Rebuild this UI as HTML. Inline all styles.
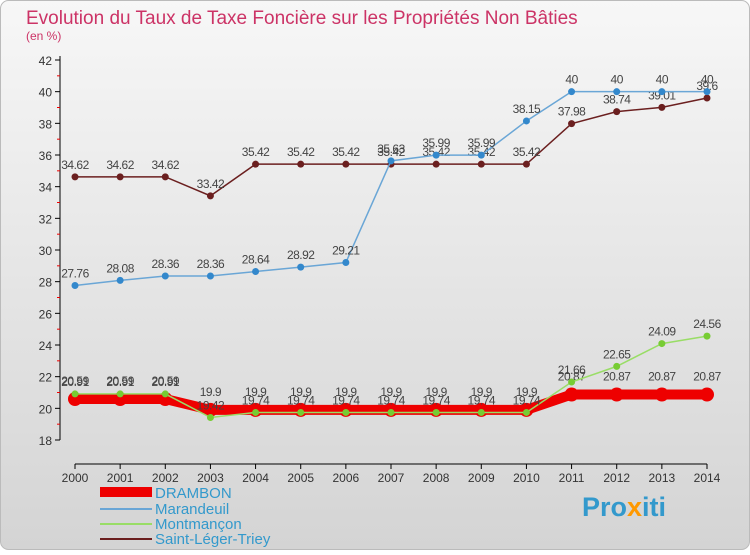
<!DOCTYPE html>
<html><head><meta charset="utf-8"><style>
body{margin:0;font-family:"Liberation Sans",sans-serif}
</style></head><body>
<svg id="c" width="750" height="550" xmlns="http://www.w3.org/2000/svg">
<defs><linearGradient id="bg" x1="0" y1="0" x2="0" y2="1"><stop offset="0" stop-color="#f7f7f7"/><stop offset="1" stop-color="#d4d4d4"/></linearGradient></defs>
<rect x="0.5" y="0.5" width="749" height="549" rx="8" fill="url(#bg)" stroke="#bbb"/>
<text x="26" y="24" font-size="19" fill="#cc3366">Evolution du Taux de Taxe Foncière sur les Propriétés Non Bâties</text>
<text x="26" y="40" font-size="12" fill="#cc3366">(en %)</text>
<g id="axes"></g><g id="series"></g>
<g>
<rect x="100" y="487" width="52" height="10" fill="#e00"/>
<text x="155" y="498" font-size="15" fill="#3399cc">DRAMBON</text>
<line x1="100" y1="509" x2="152" y2="509" stroke="#6aa6d6" stroke-width="2"/>
<text x="155" y="514" font-size="15" fill="#3399cc">Marandeuil</text>
<line x1="100" y1="524" x2="152" y2="524" stroke="#99dd66" stroke-width="2"/>
<text x="155" y="529" font-size="15" fill="#3399cc">Montmançon</text>
<line x1="100" y1="539" x2="152" y2="539" stroke="#6b1f1f" stroke-width="2"/>
<text x="155" y="544" font-size="15" fill="#3399cc">Saint-Léger-Triey</text>
</g>
<text x="582" y="516" font-size="27" font-weight="bold" fill="#3399cc">Pro<tspan fill="#ff9900">x</tspan>iti</text>
</svg>
<script>
const years=[2000,2001,2002,2003,2004,2005,2006,2007,2008,2009,2010,2011,2012,2013,2014];
const drambon=[20.59,20.59,20.59,19.9,19.9,19.9,19.9,19.9,19.9,19.9,19.9,20.87,20.87,20.87,20.87];
const marandeuil=[27.76,28.08,28.36,28.36,28.64,28.92,29.21,35.63,35.99,35.99,38.15,40,40,40,40];
const montmancon=[20.91,20.91,20.91,19.42,19.74,19.74,19.74,19.74,19.74,19.74,19.74,21.66,22.65,24.09,24.56];
const saintLeger=[34.62,34.62,34.62,33.42,35.42,35.42,35.42,35.42,35.42,35.42,35.42,37.98,38.74,39.01,39.6];
const yTicks=[18,20,22,24,26,28,30,32,34,36,38,40,42];
const NS="http://www.w3.org/2000/svg";
const X=i=>75+i*(707-75)/(years.length-1);
const Y=v=>440-(v-18)*(380/24);
function mk(t,a,p){const e=document.createElementNS(NS,t);for(const k in a)e.setAttribute(k,a[k]);p.appendChild(e);return e;}
const ax=document.getElementById('axes'),sg=document.getElementById('series');
let l=mk('line',{x1:60,y1:Y(42)-4,x2:60,y2:440,stroke:'#000'},ax);


l=mk('line',{x1:X(0),y1:464,x2:X(14),y2:464,stroke:'#000'},ax);


yTicks.forEach(v=>{mk('line',{x1:55,y1:Y(v),x2:60,y2:Y(v),stroke:'#000'},ax);
 if(v<42)mk('line',{x1:57,y1:Y(v+1),x2:60,y2:Y(v+1),stroke:'#e00'},ax);
 const t=mk('text',{x:52,y:Y(v)+5,'font-size':12,'text-anchor':'end',fill:'#333'},ax);t.textContent=v;
 
 });
years.forEach((y,i)=>{mk('line',{x1:X(i),y1:464,x2:X(i),y2:469,stroke:'#000'},ax);
 const t=mk('text',{x:X(i),y:482,'font-size':12,'text-anchor':'middle',fill:'#333'},ax);t.textContent=y;
 
 });
function series(d,color,w,r,dot,name,lblOff){
 const g=mk('g',{},sg);
 
 
 mk('polyline',{points:d.map((v,i)=>X(i)+','+Y(v)).join(' '),fill:'none',stroke:color,'stroke-width':w},g);
 d.forEach((v,i)=>{const c=mk('circle',{cx:X(i),cy:Y(v),r:r,fill:dot},g);
  
  
  const t=mk('text',{x:X(i),y:Y(v)-lblOff,'font-size':12,'text-anchor':'middle',fill:'#444','letter-spacing':'-0.5'},g);t.textContent=v;
  
  });
}
series(saintLeger,'#6b1f1f',1.5,3.5,'#6b1f1f','saint-leger',8);
series(marandeuil,'#6aa6d6',1.5,3.5,'#3388cc','marandeuil',8);
series(drambon,'#e00',10,7,'#e00','drambon',14);
series(montmancon,'#99dd66',1.5,3.5,'#77cc33','montmancon',8);
</script>
</body></html>
